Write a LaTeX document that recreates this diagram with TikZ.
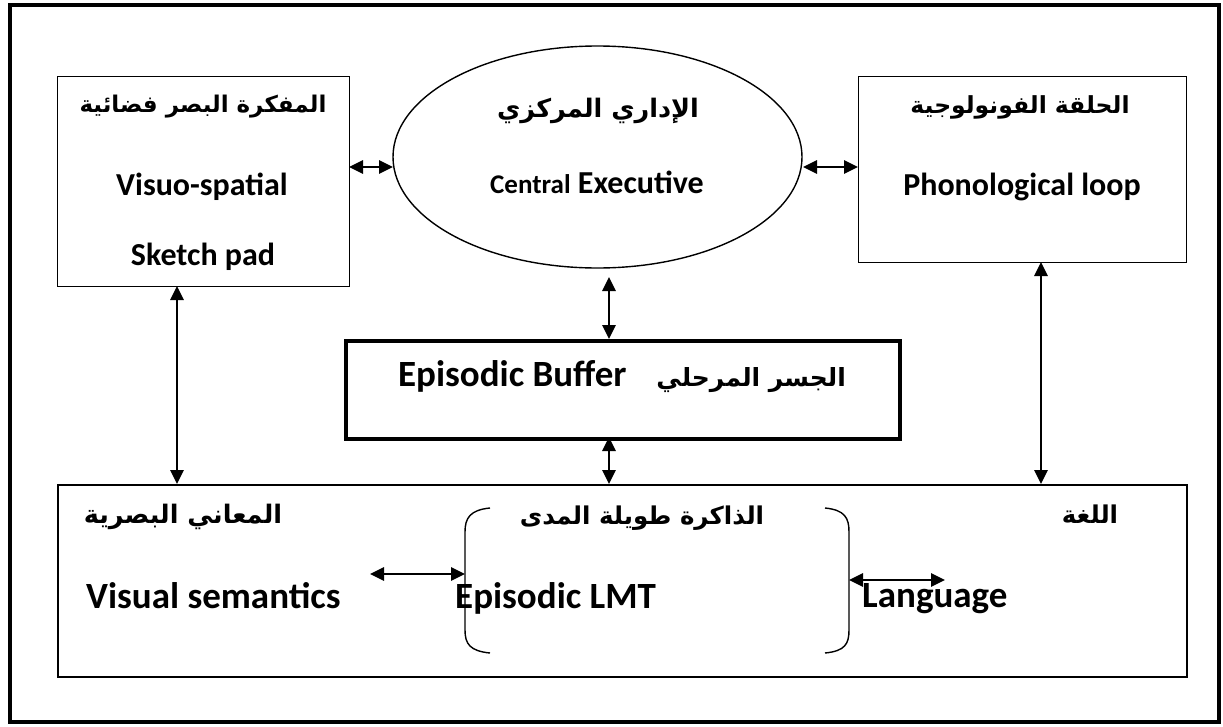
\documentclass[tikz,border=0pt]{standalone}
\usepackage{fontspec}
\setmainfont{Carlito}
\newfontfamily\arabicfont[Script=Arabic]{DejaVu Sans}
\TeXXeTstate=1
\usetikzlibrary{shapes.geometric,arrows.meta}

\begin{document}
\begin{tikzpicture}[x=1pt,y=-1pt,
 dbl/.style={line width=2.9pt, {Triangle[length=14pt,width=13pt]}-{Triangle[length=14pt,width=13pt]}},
 lat/.style={font=\fontsize{32}{38}\selectfont\bfseries, inner sep=0pt, anchor=base},
 latb/.style={font=\fontsize{37}{44}\selectfont\bfseries, inner sep=0pt, anchor=base west},
 ara/.style={font=\arabicfont\fontsize{#1}{30}\selectfont\bfseries, inner sep=0pt},
 box/.style={draw, line width=1.4pt, anchor=north west, inner sep=0pt},
 brk/.style={line width=1.4pt}]
\useasboundingbox (0,0) rectangle (1223,726);
% outer frame
\draw[line width=4.5pt] (10,5) rectangle (1219,722);

% boxes
\node[box, minimum width=292pt, minimum height=210pt] (vs) at (57,76) {};
\node[box, minimum width=328pt, minimum height=186pt] (pl) at (858,76) {};
\node[draw, ellipse, line width=1.4pt, minimum width=409pt, minimum height=222pt, inner sep=0pt] (ce) at (597.5,157) {};
\node[box, line width=3.5pt, minimum width=554pt, minimum height=98pt] (eb) at (344,339) {};
\node[box, line width=1.8pt, minimum width=1129pt, minimum height=192pt] (lt) at (57,484) {};

% texts
\node[ara=23] (t1) at (203,107) {\beginR المفكرة البصر فضائية\endR};
\node[lat] (t2) at (202,195) {Visuo-spatial};
\node[lat] (t3) at (203,265) {Sketch pad};
\node[ara=25.5] (t4) at (598,111) {\beginR الإداري المركزي\endR};
\node[lat] (t5) at (597,193) {{\fontsize{27}{32}\selectfont Central} Executive};
\node[ara=23.5] (t6) at (1020,107) {\beginR الحلقة الفونولوجية\endR};
\node[lat] (t7) at (1022,195) {Phonological loop};
\node[latb, anchor=base] (t8) at (622,386) {Episodic Buffer\hspace{30pt}{\arabicfont\fontsize{25}{30}\selectfont\bfseries\beginR الجسر المرحلي\endR}};
\node[ara=25.5] (t9) at (183,517) {\beginR المعاني البصرية\endR};
\node[latb] (t10) at (86,608) {Visual semantics};
\node[ara=24.5] (t11) at (642,518) {\beginR الذاكرة طويلة المدى\endR};
\node[latb] (t12) at (455,608) {Episodic LMT};
\node[ara=24.5] (t13) at (1090,514) {\beginR اللغة\endR};
\node[latb] (t14) at (862,607) {Language};

% brackets
\coordinate (bl1) at (490,508);
\coordinate (bl2) at (490,653);
\coordinate (br1) at (825,508);
\coordinate (br2) at (825,653);
\draw[brk] (bl1) .. controls (470,510) and (465,518) .. (465,532) -- (465,630) .. controls (465,644) and (470,651) .. (bl2);
\draw[brk] (br1) .. controls (845,510) and (849,518) .. (849,532) -- (849,630) .. controls (849,644) and (845,651) .. (br2);

% arrow end points
\coordinate (a1) at (349,167); \coordinate (a2) at (393,167);
\coordinate (a3) at (803,167); \coordinate (a4) at (858,167);
\coordinate (a5) at (609,277); \coordinate (a6) at (609,339);
\coordinate (a7) at (609,437); \coordinate (a8) at (609,484);
\coordinate (a9) at (177,286); \coordinate (a10) at (177,484);
\coordinate (a11) at (1041,262); \coordinate (a12) at (1041,484);
\coordinate (a13) at (370,574); \coordinate (a14) at (465,574);
\coordinate (a15) at (849,580); \coordinate (a16) at (945,580);

\draw[dbl] (a1) -- (a2);
\draw[dbl] (a3) -- (a4);
\draw[dbl] (a5) -- (a6);
\draw[dbl] (a7) -- (a8);
\draw[dbl] (a9) -- (a10);
\draw[dbl] (a11) -- (a12);
\draw[dbl] (a13) -- (a14);
\draw[dbl] (a15) -- (a16);
\end{tikzpicture}
\end{document}
